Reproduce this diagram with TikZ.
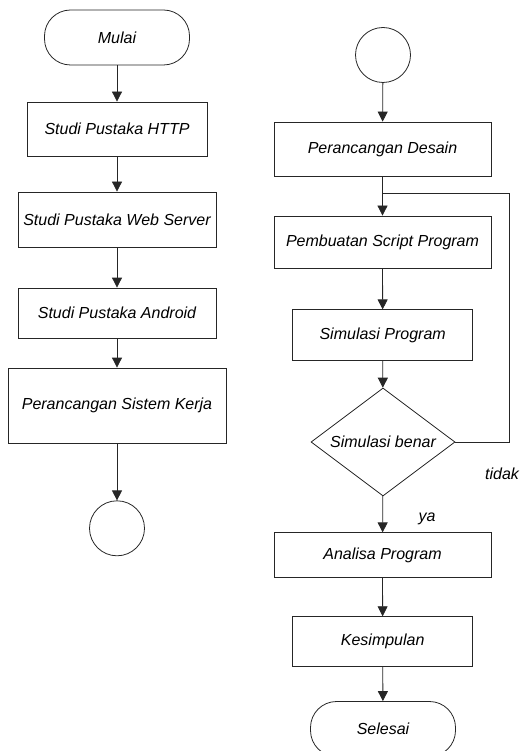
\documentclass[tikz,border=0pt]{standalone}
\usepackage{fontspec}
\setmainfont{Liberation Sans}
\usetikzlibrary{shapes.geometric,arrows.meta}
\begin{document}
\begin{tikzpicture}[x=1pt,y=-1pt,
  every node/.style={font=\fontsize{16}{19}\selectfont\itshape},
  proc/.style={draw=black!85, line width=0.8pt, rectangle, inner sep=0pt},
  term/.style={draw=black!85, line width=0.8pt, rectangle, rounded corners=26pt, inner sep=0pt, minimum width=145pt, minimum height=55pt},
  conn/.style={draw=black!85, line width=0.8pt, circle, inner sep=0pt, minimum size=55pt},
  decision/.style={draw=black!85, line width=0.8pt, diamond, aspect=1.333, inner sep=0pt, minimum width=144pt, minimum height=108pt},
  flow/.style={draw=black!85, line width=0.8pt, -{Triangle[length=10pt,width=10pt]}},
  line/.style={draw=black!85, line width=0.8pt}]
\useasboundingbox (0,0) rectangle (523,751);
% left column
\node[term] (mulai) at (117,37.5) {Mulai};
\node[proc, minimum width=180pt, minimum height=54pt] (http) at (117,129) {Studi Pustaka HTTP};
\node[proc, minimum width=198pt, minimum height=55pt] (web) at (117,219.5) {Studi Pustaka Web Server};
\node[proc, minimum width=198pt, minimum height=50pt] (android) at (117,313) {Studi Pustaka Android};
\node[proc, minimum width=218pt, minimum height=75pt] (sistem) at (117,405.5) {Perancangan Sistem Kerja};
\node[conn] (c1) at (117,528.3) {};
% right column
\node[conn] (c2) at (383,55) {};
\node[proc, minimum width=217pt, minimum height=54pt] (desain) at (382.5,149) {Perancangan Desain};
\node[proc, minimum width=217pt, minimum height=52pt] (script) at (382.5,242) {Pembuatan Script Program};
\node[proc, minimum width=180pt, minimum height=51pt] (simprog) at (382.7,335.3) {Simulasi Program};
\node[decision] (dec) at (383,442) {Simulasi benar};
\node[proc, minimum width=217pt, minimum height=45pt] (analisa) at (382.5,555.3) {Analisa Program};
\node[proc, minimum width=180pt, minimum height=50pt] (kesim) at (382.7,641.7) {Kesimpulan};
\node[term] (selesai) at (383,729) {Selesai};
\node (tidak) at (502,474) {tidak};
\node (ya) at (427,519) {ya};
\coordinate (jn) at (382.5,193);
\coordinate (loopc) at (509,193);
% connectors
\path[flow] (mulai) -- (http);
\path[flow] (http) -- (web);
\path[flow] (web) -- (android);
\path[flow] (android) -- (sistem);
\path[flow] (sistem) -- (c1);
\path[flow] (c2) -- (desain);
\path[flow] (desain) -- (script);
\path[flow] (script) -- (simprog);
\path[flow] (simprog) -- (dec);
\path[flow] (dec) -- (analisa);
\path[flow] (analisa) -- (kesim);
\path[flow] (kesim) -- (selesai);
\path[line] (dec.east) -| (loopc) -- (jn);
\end{tikzpicture}
\end{document}
